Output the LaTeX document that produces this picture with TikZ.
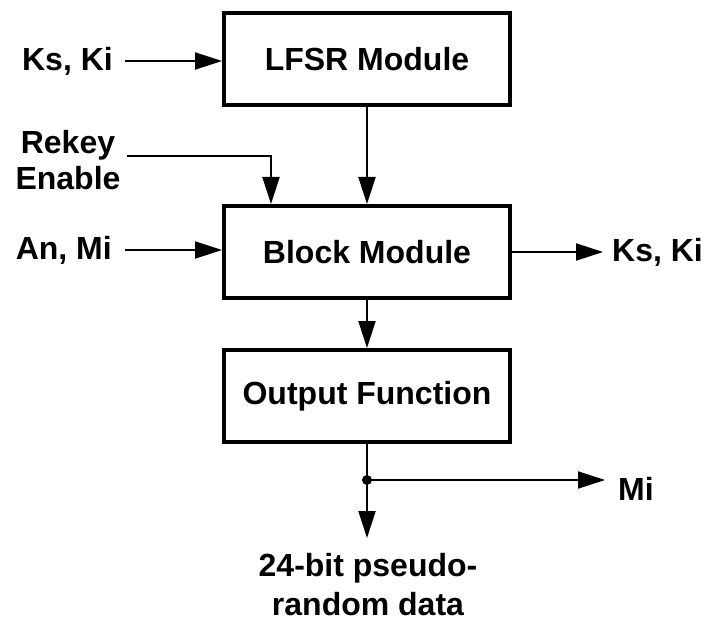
\documentclass[tikz,border=0pt]{standalone}
\usepackage{fontspec}
\setmainfont{Liberation Sans}
\usetikzlibrary{arrows.meta}
\begin{document}
\begin{tikzpicture}[x=1pt,y=-1pt,
  txt/.style={font=\bfseries\fontsize{32}{39}\selectfont, inner sep=0pt},
  box/.style={txt, draw, line width=4pt, minimum width=286pt, minimum height=92pt},
  conn/.style={line width=2pt, -{Triangle[length=27pt,width=17pt]}},
  wire/.style={line width=2pt}]
\useasboundingbox (0,0) rectangle (709,620);
\node[box] (lfsr) at (367,59.5) {LFSR Module};
\node[box] (block) at (367,252) {Block Module};
\node[box] (out) at (367,396) {Output Function};
% inputs
\node[txt, anchor=east] (ksl) at (113,61) {Ks, Ki};
\draw[conn] ([xshift=12pt]ksl.east) -- (lfsr.west |- ksl.east);
\node[txt, align=center] (rk) at (68,160) {Rekey\\[-3pt]Enable};
\coordinate (rkstart) at (127,156);
\draw[conn] (rkstart) -| ([xshift=-96pt]block.north);
\draw[conn] (lfsr) -- (block);
\node[txt, anchor=east] (an) at (112,250) {An, Mi};
\draw[conn] ([xshift=13pt]an.east) -- (block.west |- an.east);
\node[txt, anchor=west] (ksr) at (612,252) {Ks, Ki};
\draw[conn] (block.east) -- ([xshift=-9pt]ksr.west);
\draw[conn] (block) -- (out);
% output
\coordinate (dot) at (367,480);
\draw[wire] (out.south) -- (dot);
\fill (dot) circle (5pt);
\node[txt, anchor=west] (mi) at (618,489) {Mi};
\draw[conn] (dot) -- (605,480) coordinate (miend);
\coordinate (dataend) at (367,538);
\draw[conn] (dot) -- (dataend);
\node[txt, align=center] (data) at (368,585) {24-bit pseudo-\\random data};
\end{tikzpicture}
\end{document}
